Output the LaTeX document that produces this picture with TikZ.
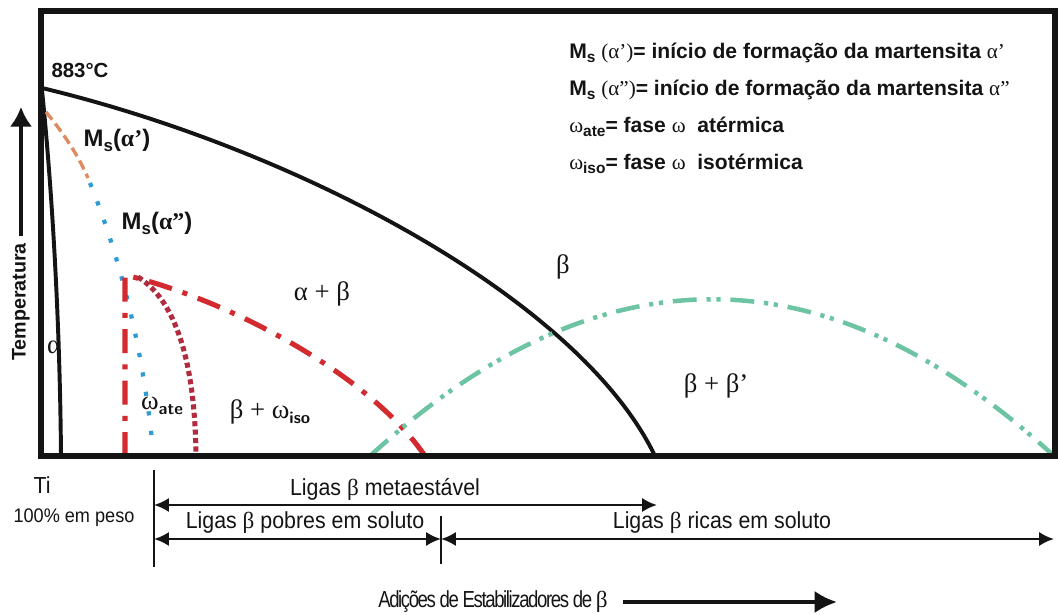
\documentclass[tikz,border=0pt]{standalone}
\usepackage{fontspec}
\setmainfont{Liberation Sans}
\newfontfamily\grk{Liberation Serif}
\newfontfamily\narrowsf[FakeStretch=0.92]{Liberation Sans}
\newfontfamily\tightsf[FakeStretch=0.8,LetterSpace=-6]{Liberation Sans}
\usetikzlibrary{arrows.meta}
\definecolor{faseInk}{HTML}{141414}
\definecolor{faseOrange}{HTML}{E08A64}
\definecolor{faseBlue}{HTML}{2E9BD2}
\definecolor{faseRed}{HTML}{D22A2E}
\definecolor{faseWine}{HTML}{B02C3E}
\definecolor{faseGreen}{HTML}{6CC4A2}
\newcommand{\sbx}[2][8]{\raisebox{-0.4ex}{\fontsize{#1}{#1}\selectfont #2}}
\tikzset{
  fase/frame/.style={draw=faseInk, line width=4.3pt},
  fase/boundary/.style={draw=faseInk, line width=2.8pt},
  fase/msone/.style={draw=faseOrange, line width=2.4pt, dash pattern=on 7pt off 3.5pt},
  fase/mstwo/.style={draw=faseBlue, line width=3pt, dash pattern=on 3pt off 11pt},
  fase/omegaiso/.style={draw=faseRed, line width=3.6pt,
    dash pattern=on 17pt off 8pt on 3.6pt off 8pt},
  fase/omegaate/.style={draw=faseWine, line width=3.6pt, dash pattern=on 3.6pt off 2.4pt},
  fase/betaprime/.style={draw=faseGreen, line width=3.2pt,
    dash pattern=on 17pt off 7pt on 3pt off 4pt on 3pt off 7pt},
  fase/dim/.style={{Latex[length=10.5pt,width=10pt]}-{Latex[length=10.5pt,width=10pt]},
    draw=faseInk, line width=1.8pt},
  fase/tick/.style={draw=faseInk, line width=2pt},
  fase/axis/.style={-{Latex[length=14pt,width=16pt]}, draw=faseInk, line width=2.6pt},
  fase/phase/.style={font=\grk\fontsize{19}{21}\selectfont, text=faseInk, inner sep=0pt},
  fase/label/.style={font=\bfseries\fontsize{17}{19}\selectfont, text=faseInk, inner sep=0pt},
  fase/legend/.style={font=\bfseries\fontsize{15}{17}\selectfont, text=faseInk,
    anchor=west, inner sep=0pt},
  fase/range/.style={font=\narrowsf\fontsize{16.5}{18}\selectfont, text=faseInk, inner sep=0pt},
}

\begin{document}
\begin{tikzpicture}[x=0.025cm, y=-0.025cm]
\useasboundingbox (0,0) rectangle (1058,615);

% ===== Phase boundaries =====
\draw[fase/boundary] (42,88) .. controls (300,150) and (580,300) .. (655,456);
\draw[fase/boundary] (42,90) .. controls (53,200) and (60,330) .. (61,456);
\draw[fase/msone] (46,112) .. controls (64,134) and (78,155) .. (88,178);
\draw[fase/mstwo] (90,183) .. controls (115,245) and (140,330) .. (152,440);
\draw[fase/omegaiso] (125,456) -- (125,275) .. controls (230,300) and (370,375) .. (425,456);
\draw[fase/omegaate] (138,277) .. controls (175,300) and (195,360) .. (196,456);
\draw[fase/betaprime] (370,456) .. controls (598,247) and (826,247) .. (1054,456);

% ===== Frame =====
\draw[fase/frame] (41,11) rectangle (1055,456);

% ===== Labels inside the diagram =====
\node[fase/label, font=\bfseries\fontsize{14.5}{16}\selectfont] (tfus) at (80,71) {883°C};
\node[fase/label] (msone) at (117,140) {M\sbx[12]{s}({\grk α’})};
\node[fase/label] (mstwo) at (157,223) {M\sbx[12]{s}({\grk α”})};
\node[fase/phase] (alpha) at (54,347) {α};
\node[fase/phase] (alphabeta) at (322,294) {α + β};
\node[fase/phase] (beta) at (563,267) {β};
\node[fase/phase] (betabeta) at (716,386) {β + β’};
\node[fase/phase] (omate) at (162,406) {ω\sbx[12]{\sffamily\bfseries ate}};
\node[fase/phase] (betaomiso) at (270,412) {β + ω\sbx[12]{\sffamily\bfseries iso}};

% ===== Legend =====
\node[fase/legend] (leg1) at (569,53)  {M\sbx[11]{s} {\grk\mdseries(α’)}= início de formação da martensita {\grk\mdseries α’}};
\node[fase/legend] (leg2) at (569,90)  {M\sbx[11]{s} {\grk\mdseries(α”)}= início de formação da martensita {\grk\mdseries α”}};
\node[fase/legend] (leg3) at (569,127) {{\grk\mdseries ω}\sbx[11]{ate}= fase {\grk\mdseries ω}\ \ atérmica};
\node[fase/legend] (leg4) at (569,164) {{\grk\mdseries ω}\sbx[11]{iso}= fase {\grk\mdseries ω}\ \ isotérmica};

% ===== Temperature axis =====
\node[fase/label, font=\bfseries\fontsize{14}{16}\selectfont, rotate=90, inner sep=5pt] (temp) at (21,302) {Temperatura};
\coordinate (tempTip) at (21,107);
\draw[fase/axis] (temp.east) -- (tempTip);

% ===== Composition ranges =====
\node[fase/range] (ti) at (42,485) {Ti};
\node[fase/range, font=\narrowsf\fontsize{14}{16}\selectfont] (peso) at (74,518) {100\% em peso};

\coordinate (tiTop) at (154,470);
\coordinate (tiBot) at (154,567);
\coordinate (midTop) at (441,516);
\coordinate (midBot) at (441,564);
\draw[fase/tick] (tiTop) -- (tiBot);
\draw[fase/tick] (midTop) -- (midBot);

\coordinate (metaL) at (154,505);
\coordinate (metaR) at (657,505);
\coordinate (pobreL) at (154,539);
\coordinate (pobreR) at (441,539);
\coordinate (ricaR) at (1054,539);
\draw[fase/dim] (metaL) -- (metaR);
\draw[fase/dim] (pobreL) -- (pobreR);
\draw[fase/dim] (pobreR) -- (ricaR);

\node[fase/range] (meta) at (385,489) {Ligas {\grk β} metaestável};
\node[fase/range] (pobre) at (305,523) {Ligas {\grk β} pobres em soluto};
\node[fase/range] (rica) at (722,523) {Ligas {\grk β} ricas em soluto};

% ===== Beta stabilizer additions =====
\node[fase/range, font=\tightsf\fontsize{16.5}{18}\selectfont] (adicoes) at (493,602) {Adições de Estabilizadores de {\grk β}};
\coordinate (adicEnd) at (837,602);
\draw[-{Latex[length=16pt,width=16pt]}, draw=faseInk, line width=2.8pt] ([xshift=11pt]adicoes.east) -- (adicEnd);
\end{tikzpicture}
\end{document}
